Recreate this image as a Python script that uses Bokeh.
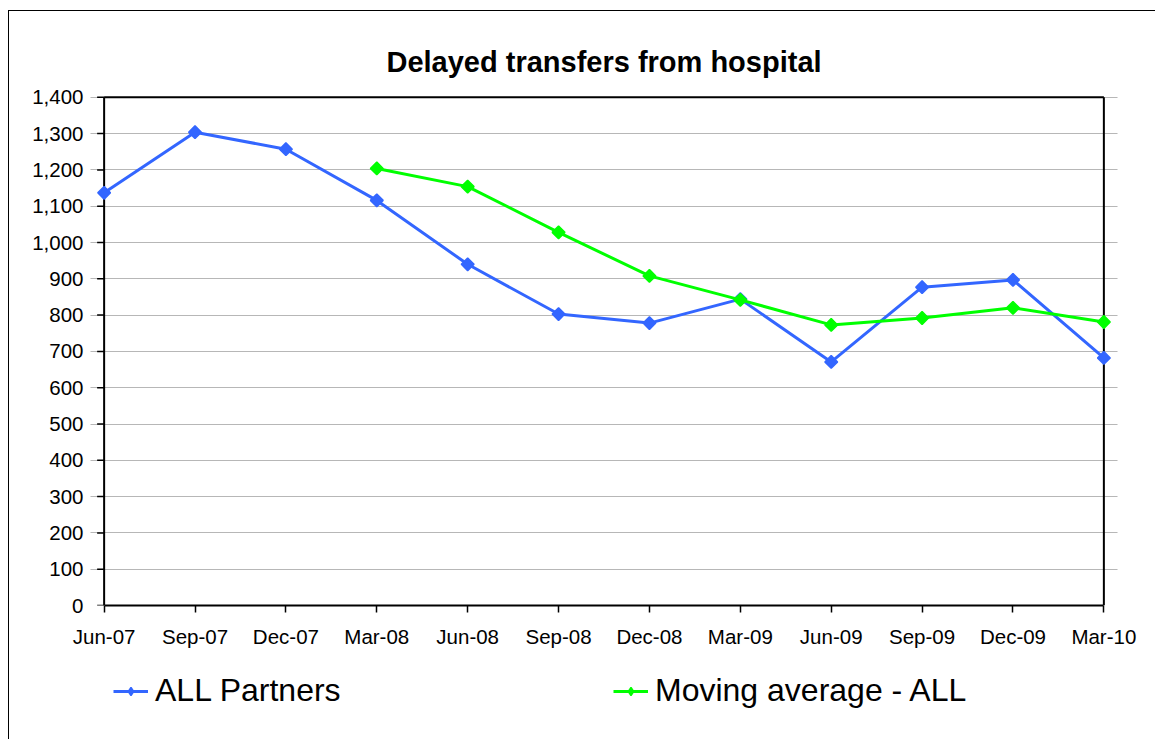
import math
from bokeh.plotting import figure
from bokeh.embed import file_html
from bokeh.resources import INLINE
from bokeh.layouts import column
from bokeh.models import (Range1d, FixedTicker, NumeralTickFormatter, Legend, LegendItem,
                          ColumnDataSource)

# ---- data ----
periods = ["Jun-07", "Sep-07", "Dec-07", "Mar-08", "Jun-08", "Sep-08",
           "Dec-08", "Mar-09", "Jun-09", "Sep-09", "Dec-09", "Mar-10"]
all_partners = [1137, 1304, 1257, 1116, 940, 803, 778, 844, 671, 877, 897, 682]
moving_avg_periods = ["Mar-08", "Jun-08", "Sep-08", "Dec-08", "Mar-09",
                      "Jun-09", "Sep-09", "Dec-09", "Mar-10"]
moving_avg = [1204, 1154, 1028, 908, 842, 773, 792, 820, 781]
y_ticks = list(range(0, 1401, 100))
series_names = ["ALL Partners", "Moving average - ALL"]

BLUE = "#3366FF"
GREEN = "#00FF00"

idx = {c: i for i, c in enumerate(periods)}
x_all = [idx[c] for c in periods]
x_ma = [idx[c] for c in moving_avg_periods]
x_min, x_max = 0, len(periods) - 1
y_min, y_max = y_ticks[0], y_ticks[-1]

# layout constants (pixels)
W, H_MAIN, H_LEG = 1147, 655, 74
BL, BR, BT, BB = 81, 39, 84, 61
pad = 0.15
frame_w = W - BL - BR
px_per_x = frame_w / ((x_max - x_min) + 2 * pad)
tick_len = 7 / px_per_x

p = figure(width=W, height=H_MAIN, output_backend="svg", toolbar_location=None,
           x_range=Range1d(x_min - pad, x_max + pad), y_range=Range1d(y_min, y_max + 5),
           min_border_left=BL, min_border_right=BR, min_border_top=BT, min_border_bottom=BB,
           title="Delayed transfers from hospital",
           styles={"border-left": "1px solid black", "border-top": "1px solid black"})
p.background_fill_color = "white"
p.border_fill_color = "white"
p.outline_line_alpha = 0

p.title.align = "center"
p.title.text_font = "Liberation Sans"
p.title.text_font_size = "29px"
p.title.text_font_style = "bold"
p.title.text_color = "black"
p.title.standoff = 36

# x axis (sits on y=0 at the frame bottom)
xa = p.xaxis[0]
xa.axis_line_color = "black"
xa.axis_line_width = 2
xa.major_tick_line_color = "black"
xa.major_tick_line_width = 1.5
xa.major_tick_out = 7
xa.major_tick_in = 0
xa.minor_tick_line_color = None
xa.ticker = FixedTicker(ticks=x_all)
xa.major_label_overrides = {i: c for i, c in enumerate(periods)}
xa.bounds = (x_min, x_max)
xa.major_label_standoff = 12

# y axis: labels from the axis, line and ticks drawn at x = x_min
ya = p.yaxis[0]
ya.axis_line_color = None
ya.major_tick_line_color = None
ya.minor_tick_line_color = None
ya.major_tick_out = 0
ya.major_tick_in = 0
ya.ticker = FixedTicker(ticks=y_ticks)
ya.formatter = NumeralTickFormatter(format="0,0")
ya.major_label_standoff = 7

for ax in (xa, ya):
    ax.major_label_text_font = "Liberation Sans"
    ax.major_label_text_font_size = "20.5px"
    ax.major_label_text_color = "black"

p.xgrid.grid_line_color = None
p.ygrid.grid_line_color = "#6e6e6e"
p.ygrid.grid_line_dash = "1 1"
p.ygrid.grid_line_width = 1
p.ygrid.bounds = (x_min, x_max)

# y tick marks and plot-area frame
p.segment(x0=[x_min - tick_len] * len(y_ticks), y0=y_ticks,
          x1=[x_min] * len(y_ticks), y1=y_ticks, line_color="black", line_width=1.5)
p.segment(x0=[x_min, x_min, x_max], y0=[y_min, y_max, y_min],
          x1=[x_min, x_max, x_max], y1=[y_max, y_max, y_max],
          line_color="black", line_width=2)

# series
src_all = ColumnDataSource(dict(x=x_all, y=all_partners))
src_ma = ColumnDataSource(dict(x=x_ma, y=moving_avg))
p.line("x", "y", source=src_all, line_color=BLUE, line_width=3)
p.scatter("x", "y", source=src_all, marker="square", angle=math.pi / 4, size=9,
          fill_color=BLUE, line_color=BLUE, line_width=1.5)
p.line("x", "y", source=src_ma, line_color=GREEN, line_width=3)
p.scatter("x", "y", source=src_ma, marker="square", angle=math.pi / 4, size=9,
          fill_color=GREEN, line_color=GREEN, line_width=1.5)

# legend strip
lg = figure(width=W, height=H_LEG, output_backend="svg", toolbar_location=None,
            x_range=Range1d(0, 1), y_range=Range1d(0, 1),
            x_axis_location=None, y_axis_location=None,
            min_border=0, styles={"border-left": "1px solid black"})
lg.grid.visible = False
lg.outline_line_alpha = 0
lg.background_fill_color = "white"
lg.border_fill_color = "white"
offscreen = ColumnDataSource(dict(x=[-1], y=[-1]))
items = []
for name, col in zip(series_names, [BLUE, GREEN]):
    r1 = lg.line("x", "y", source=offscreen, line_color=col, line_width=3)
    r2 = lg.scatter("x", "y", source=offscreen, marker="diamond",
                    size=15, fill_color=col, line_color=col, line_width=1.5)
    items.append(LegendItem(label=name, renderers=[r1, r2]))
legend = Legend(items=items, orientation="horizontal", location=(23, 30),
                label_text_font="Liberation Sans", label_text_font_size="32px",
                label_text_color="black", glyph_width=35, glyph_height=20,
                label_standoff=7, label_width=458, spacing=0, margin=0, padding=4,
                border_line_color=None, background_fill_alpha=0)
lg.add_layout(legend)

page = column(p, lg, spacing=0, margin=(10, 0, 0, 8))
open("out.html", "w").write(file_html(page, INLINE))
